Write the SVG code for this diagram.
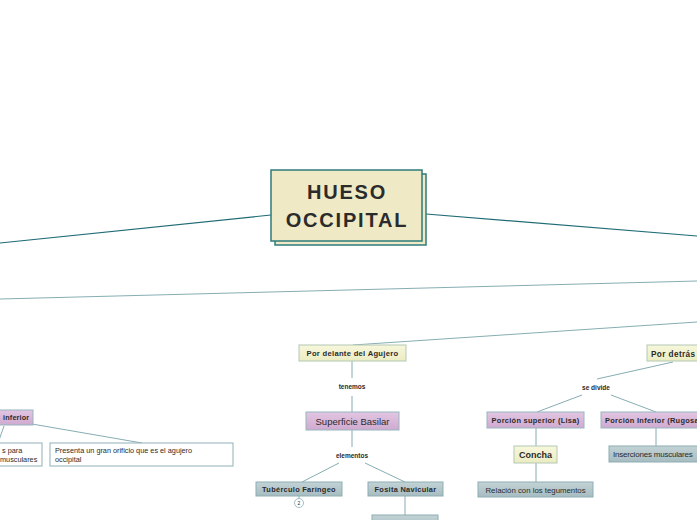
<svg xmlns="http://www.w3.org/2000/svg" width="697" height="520" viewBox="0 0 697 520">
<defs>
<linearGradient id="gY" x1="0" y1="0" x2="0" y2="1"><stop offset="0" stop-color="#f7f7dc"/><stop offset="1" stop-color="#ececc2"/></linearGradient>
<linearGradient id="gP" x1="0" y1="0" x2="0" y2="1"><stop offset="0" stop-color="#e2c6e2"/><stop offset="1" stop-color="#d0aad0"/></linearGradient>
<linearGradient id="gB" x1="0" y1="0" x2="0" y2="1"><stop offset="0" stop-color="#c3d3d6"/><stop offset="1" stop-color="#a6bcc1"/></linearGradient>
<style>
.t{font-family:"Liberation Sans",Arial,sans-serif;fill:#2b2b2b}
.b{font-weight:bold}
.y{fill:url(#gY);stroke:#b3c8b4;stroke-width:1}
.p{fill:url(#gP);stroke:#98b6bf;stroke-width:1}
.g{fill:url(#gB);stroke:#8eadb3;stroke-width:1}
.w{fill:#ffffff;stroke:#8fb0b8;stroke-width:1}
.c1{stroke:#1f6b75;stroke-width:1.2;fill:none}
.c2{stroke:#86adb3;stroke-width:1;fill:none}
</style>
</defs>
<rect width="697" height="520" fill="#ffffff"/>
<g id="connectors">
<line class="c1" x1="0" y1="243" x2="271" y2="215"/>
<line class="c1" x1="426" y1="214" x2="697" y2="236"/>
<line class="c2" x1="0" y1="299" x2="697" y2="281"/>
<line class="c2" x1="353" y1="345" x2="697" y2="322"/>
<line class="c2" x1="352" y1="361" x2="352" y2="378"/>
<line class="c2" x1="352" y1="396" x2="352" y2="412"/>
<line class="c2" x1="352" y1="430" x2="352" y2="447"/>
<line class="c2" x1="339" y1="463" x2="302" y2="482"/>
<line class="c2" x1="365" y1="463" x2="405" y2="482"/>
<line class="c2" x1="405" y1="496" x2="405" y2="515"/>
<line class="c2" x1="299" y1="496" x2="299" y2="498"/>
<line class="c2" x1="673" y1="362" x2="597" y2="379"/>
<line class="c2" x1="582" y1="395" x2="537" y2="412"/>
<line class="c2" x1="611" y1="395" x2="656" y2="412"/>
<line class="c2" x1="536" y1="428" x2="536" y2="446"/>
<line class="c2" x1="536" y1="463" x2="536" y2="482"/>
<line class="c2" x1="656" y1="428" x2="656" y2="446"/>
<line class="c2" x1="32" y1="424" x2="142" y2="443"/>
<line class="c2" x1="4" y1="426" x2="-2" y2="443"/>
</g>
<g id="central">
<rect x="275" y="174" width="151" height="71" fill="#efe9c5" stroke="#2e7b7b" stroke-width="1.5"/>
<rect x="271" y="170" width="151" height="71" fill="#efe9c5" stroke="#2e7b7b" stroke-width="1.5"/>
<text class="t b" x="347" y="199" font-size="20" letter-spacing="1.8" text-anchor="middle">HUESO</text>
<text class="t b" x="347" y="226.5" font-size="20" letter-spacing="1.8" text-anchor="middle">OCCIPITAL</text>
</g>
<g id="por-delante">
<rect class="y" x="299" y="345" width="107" height="16"/>
<text class="t b" x="352.5" y="356" font-size="7.6" letter-spacing="0.3" text-anchor="middle">Por delante del Agujero</text>
</g>
<g id="tenemos"><text class="t b" x="352" y="389" font-size="6.5" text-anchor="middle">tenemos</text></g>
<g id="superficie-basilar">
<rect class="p" x="306" y="412" width="93" height="18"/>
<text class="t" x="352.5" y="424.5" font-size="9.5" text-anchor="middle">Superficie Basilar</text>
</g>
<g id="elementos"><text class="t b" x="352" y="458" font-size="6.5" text-anchor="middle">elementos</text></g>
<g id="tuberculo">
<rect class="g" x="256" y="482" width="86" height="14"/>
<text class="t b" x="299" y="491.5" font-size="7.4" letter-spacing="0.3" text-anchor="middle">Tubérculo Faríngeo</text>
<circle cx="299" cy="503" r="4.5" fill="#ffffff" stroke="#86adb3" stroke-width="0.8"/>
<text class="t" x="299" y="505" font-size="5" text-anchor="middle" fill="#6a9aa2">2</text>
</g>
<g id="fosita">
<rect class="g" x="368" y="482" width="75" height="14"/>
<text class="t b" x="405.5" y="491.5" font-size="7.4" letter-spacing="0.3" text-anchor="middle">Fosita Navicular</text>
</g>
<g id="fosita-child">
<rect class="g" x="372" y="515" width="66" height="14"/>
</g>
<g id="por-detras">
<rect class="y" x="647" y="345" width="60" height="16"/>
<text class="t b" x="651" y="356.5" font-size="8.2" letter-spacing="0.4">Por detrás</text>
</g>
<g id="se-divide"><text class="t b" x="596" y="389.5" font-size="6.5" text-anchor="middle">se divide</text></g>
<g id="porcion-superior">
<rect class="p" x="487" y="412" width="97" height="16"/>
<text class="t b" x="535.5" y="423" font-size="7.4" letter-spacing="0.3" text-anchor="middle">Porción superior (Lisa)</text>
</g>
<g id="porcion-inferior">
<rect class="p" x="601" y="412" width="110" height="16"/>
<text class="t b" x="605" y="423" font-size="7.4" letter-spacing="0.3">Porción Inferior (Rugosa)</text>
</g>
<g id="concha">
<rect class="y" x="514" y="446" width="43" height="17"/>
<text class="t b" x="535.5" y="458" font-size="9" text-anchor="middle">Concha</text>
</g>
<g id="relacion">
<rect class="g" x="478" y="482" width="115" height="15"/>
<text class="t" x="535.5" y="492.5" font-size="7.8" text-anchor="middle">Relación con los tegumentos</text>
</g>
<g id="inserciones">
<rect class="g" x="609" y="446" width="100" height="16"/>
<text class="t" x="613" y="457" font-size="8" letter-spacing="-0.2">Inserciones musculares</text>
</g>
<g id="inferior-left">
<rect class="p" x="-10" y="410" width="43" height="15"/>
<text class="t b" x="3" y="420" font-size="7.2" letter-spacing="0.2">inferior</text>
</g>
<g id="left-box">
<rect class="w" x="-10" y="443" width="52" height="23"/>
<text class="t" x="2" y="453" font-size="7.3">s para</text>
<text class="t" x="0" y="462" font-size="7.3">musculares</text>
</g>
<g id="presenta">
<rect class="w" x="50" y="443" width="183" height="23"/>
<text class="t" x="55" y="453" font-size="7.3">Presenta un gran orificio que es el agujero</text>
<text class="t" x="55" y="462" font-size="7.3">occipital</text>
</g>
</svg>
